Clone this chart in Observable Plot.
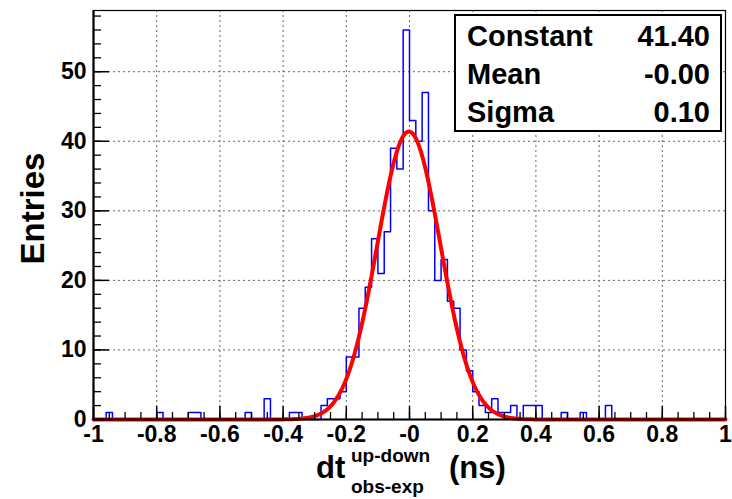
<!DOCTYPE html>
<html><head><meta charset="utf-8">
<script src="https://cdn.jsdelivr.net/npm/d3@7"></script>
<script src="https://cdn.jsdelivr.net/npm/@observablehq/plot@0.6"></script>
<style>html,body{margin:0;padding:0;background:#fff;} svg{display:block}</style>
</head><body><div id="chart"></div>
<script>
// Histogram: 100 bins of width 0.02 from -1 to 1
const binLow = -1;
const binWidth = 0.02;
const counts = [
  0,0,1,0,0,0,0,0,0,0,   // -1.00 .. -0.80
  1,0,0,0,0,1,1,0,0,0,   // -0.80 .. -0.60
  0,0,0,0,1,0,0,3,0,0,   // -0.60 .. -0.40
  0,1,1,0,0,0,2,3,3,4,   // -0.40 .. -0.20
  9,9,16,19,26,21,27,39,36,56, // -0.20 .. 0.00
  43,40,47,30,20,23,17,16,10,7, // 0.00 .. 0.20
  4,2,1,3,1,1,2,0,2,2,   // 0.20 .. 0.40
  2,0,0,0,1,0,0,1,0,0,   // 0.40 .. 0.60
  0,2,0,0,0,0,0,0,0,0,   // 0.60 .. 0.80
  0,0,0,0,0,0,0,0,0,0    // 0.80 .. 1.00
];
// Gaussian fit parameters (from stats box)
const fitConstant = 41.40;
const fitMean = -0.002;
const fitSigma = 0.10;
const statsLabels = ["Constant", "Mean", "Sigma"];
const statsValues = ["41.40", "-0.00", "0.10"];
// Axis ticks
const xMajor = [-1, -0.8, -0.6, -0.4, -0.2, 0, 0.2, 0.4, 0.6, 0.8, 1];
const xTickLabels = ["-1", "-0.8", "-0.6", "-0.4", "-0.2", "-0", "0.2", "0.4", "0.6", "0.8", "1"];
const yMajor = [0, 10, 20, 30, 40, 50];
const yTickLabels = ["0", "10", "20", "30", "40", "50"];
const yMax = 58.8;

const xMinor = d3.range(0, 41).map(i => Math.round((-1 + i * 0.05) * 1000) / 1000);
const yMinor = d3.range(0, 30).map(i => i * 2);

const steps = [{x: binLow, y: 0}];
counts.forEach((c, i) => {
  steps.push({x: binLow + i * binWidth, y: c});
  steps.push({x: binLow + (i + 1) * binWidth, y: c});
});
steps.push({x: binLow + counts.length * binWidth, y: 0});

const fit = d3.range(0, 801).map(i => {
  const x = -1 + i * 0.0025;
  return {x, y: fitConstant * Math.exp(-0.5 * ((x - fitMean) / fitSigma) ** 2)};
});

const font = "'Liberation Sans', Arial, Helvetica, sans-serif";
const gridStyle = {stroke: "#666", strokeOpacity: 1, strokeDasharray: "2,3", strokeWidth: 1};

const plot = Plot.plot({
  width: 732, height: 499,
  marginLeft: 93, marginRight: 7, marginTop: 10, marginBottom: 80,
  x: {domain: [-1, 1]},
  y: {domain: [0, yMax]},
  style: {fontFamily: font, fontWeight: "bold", color: "black", background: "white", overflow: "visible"},
  marks: [
    Plot.gridX(xMajor.slice(1, -1), gridStyle),
    Plot.gridY(yMajor.slice(1), gridStyle),
    Plot.line(steps, {x: "x", y: "y", stroke: "#0000ff", strokeWidth: 1.5}),
    Plot.line(fit, {x: "x", y: "y", stroke: "#ff0000", strokeWidth: 4}),
    Plot.axisX(xMinor, {tickSize: -7, tickFormat: () => "", label: null, strokeWidth: 1.3}),
    Plot.axisX(xMajor, {tickSize: -13, tickPadding: 19, tickFormat: d => xTickLabels[xMajor.indexOf(d)], label: null, fontSize: 23, strokeWidth: 1.5}),
    Plot.axisY(yMinor, {tickSize: -8, tickFormat: () => "", label: null, strokeWidth: 1.3}),
    Plot.axisY(yMajor, {tickSize: -16, tickPadding: 23, tickFormat: d => yTickLabels[yMajor.indexOf(d)], label: null, fontSize: 23, strokeWidth: 1.5}),
    Plot.frame({stroke: "black", strokeWidth: 1.2}),
    Plot.ruleY([0], {stroke: "black", strokeWidth: 2.2}),
    Plot.ruleX([-1], {stroke: "black", strokeWidth: 2.2})
  ]
});
document.getElementById("chart").appendChild(plot);

const svg = d3.select(plot);
const xs = plot.scale("x");
const ys = plot.scale("y");

// y-axis title
svg.append("text")
  .attr("transform", `translate(44,${(ys.apply(0) + ys.apply(yMax)) / 2 - 6}) rotate(-90)`)
  .attr("text-anchor", "middle").attr("font-family", font).attr("font-weight", "bold")
  .attr("font-size", 33).attr("fill", "black").text("Entries");

// x-axis title with superscript/subscript
const cx = xs.apply(0);
const tg = svg.append("g").attr("font-family", font).attr("font-weight", "bold").attr("fill", "black").attr("text-anchor", "start");
tg.append("text").attr("text-anchor", "start").attr("x", cx - 93).attr("y", 478).attr("font-size", 31).text("dt");
tg.append("text").attr("text-anchor", "start").attr("x", cx - 58).attr("y", 462).attr("font-size", 19).text("up-down");
tg.append("text").attr("text-anchor", "start").attr("x", cx - 58).attr("y", 493).attr("font-size", 19).text("obs-exp");
tg.append("text").attr("text-anchor", "start").attr("x", cx + 40).attr("y", 478).attr("font-size", 31).text("(ns)");

// Stats box
const sb = svg.append("g").attr("font-family", font).attr("font-weight", "bold").attr("fill", "black");
sb.append("rect").attr("x", 455).attr("y", 15).attr("width", 266).attr("height", 116)
  .attr("fill", "white").attr("stroke", "black").attr("stroke-width", 2);
statsLabels.forEach((lab, i) => {
  sb.append("text").attr("text-anchor", "start").attr("x", 467).attr("y", 46 + i * 38).attr("font-size", 29).text(lab);
  sb.append("text").attr("text-anchor", "end").attr("x", 710).attr("y", 46 + i * 38).attr("font-size", 29).text(statsValues[i]);
});
</script>
</body></html>
